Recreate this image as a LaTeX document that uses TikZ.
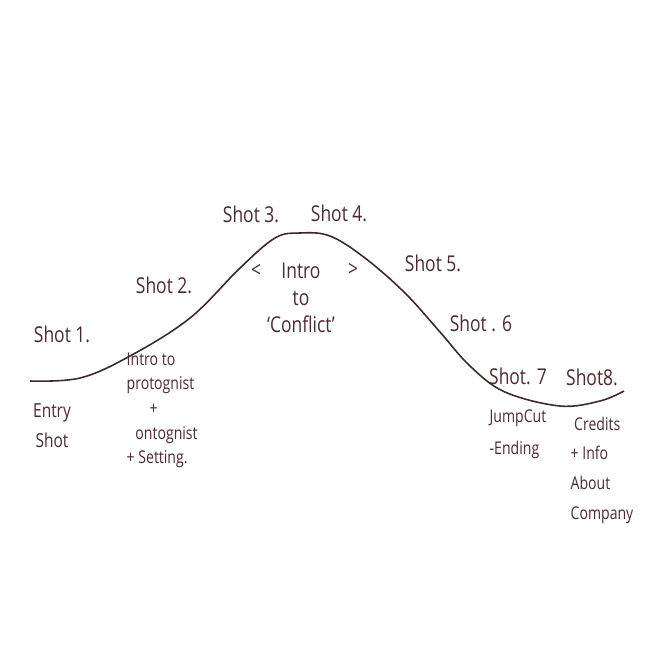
\documentclass[tikz,border=0pt]{standalone}
\usepackage{fontspec}
\setmainfont{Open Sans}[FakeStretch=0.8]
\definecolor{ink}{HTML}{4A2C32}
\definecolor{curveink}{HTML}{3A2A2C}
\begin{document}
\begin{tikzpicture}[x=0.01cm,y=-0.01cm,
  big/.style={text=ink,font=\fontsize{6.2}{7.7}\selectfont,inner sep=0pt},
  small/.style={text=ink,font=\fontsize{5}{7}\selectfont,inner sep=0pt}]
\useasboundingbox[fill=white] (0,0) rectangle (650,650);
\draw[curveink,line width=0.45pt] plot[smooth,tension=0.6] coordinates {
 (30,381) (80,378) (130,356) (190,318) (240,268) (275,238) (300,233) (330,236) (365,258) (405,293) (440,332) (470,366) (505,392) (560,406) (600,401) (624,391)};
\node[big] (s1) at (62,334) {Shot 1.};
\node[big] (s2) at (164,285) {Shot 2.};
\node[big] (s3) at (251,214) {Shot 3.};
\node[big] (s4) at (339,213) {Shot 4.};
\node[big] (s5) at (433,263) {Shot 5.};
\node[big] (s6) at (481,323) {Shot . 6};
\node[big] (s7) at (518,376) {Shot. 7};
\node[big] (s8) at (592,377) {Shot8.};
\node[big] (lt) at (256,271) {<};
\node[big] (gt) at (353,270) {>};
\node[big,align=center] (conf) at (301,298) {Intro\\to\\‘Conflict’};
\node[small,align=center,font=\fontsize{5.5}{8.5}\selectfont] (entry) at (52,426) {Entry\\Shot};
\node[small,align=left,anchor=north west] (intro) at (126,352) {Intro to\\protognist\\\hspace*{1.3em}+\\\hspace*{0.5em}ontognist\\+ Setting.};
\node[small,align=left,anchor=north west,font=\fontsize{5}{9}\selectfont] (jump) at (489,409) {JumpCut\\-Ending};
\node[small,align=left,anchor=north west,font=\fontsize{5}{8.5}\selectfont] (cred) at (570,416) {\hspace*{0.2em}Credits\\+ Info\\About\\Company};
\end{tikzpicture}
\end{document}
